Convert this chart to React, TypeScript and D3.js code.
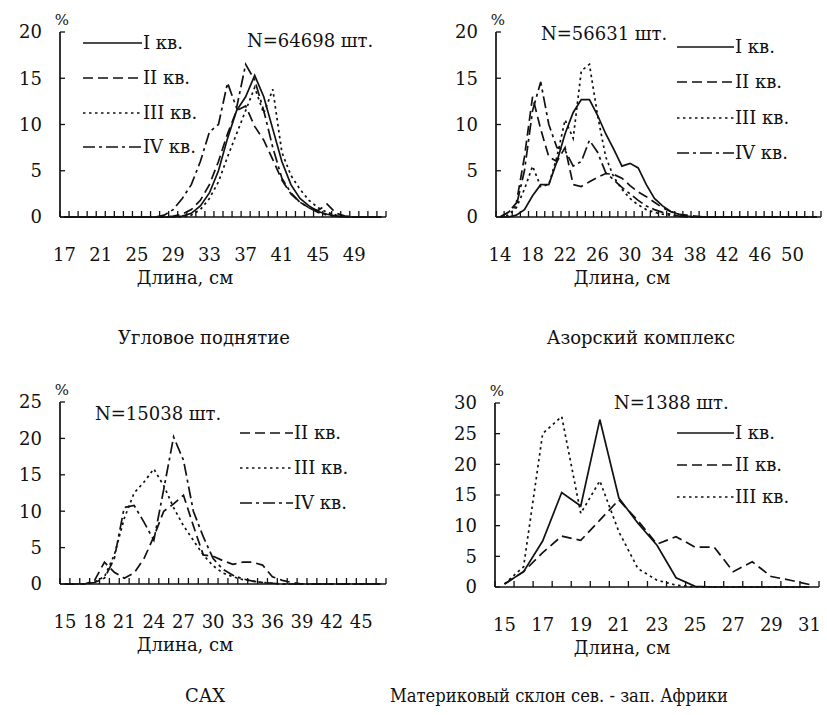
import * as d3 from "d3";

// ---- data ----
const lengths1 = [17,18,19,20,21,22,23,24,25,26,27,28,29,30,31,32,33,34,35,36,37,38,39,40,41,42,43,44,45,46,47,48,49,50,51,52];
const labels1 = [17,21,25,29,33,37,41,45,49];
const q1_1 = [0,0,0,0,0,0,0,0,0,0,0,0,0,0.1,0.4,1.2,2.6,5,8.5,11.5,13,15.3,13,9.5,6,3.5,2,1.2,0.6,0.3,0.1,0,0,0,0,0];
const q2_1 = [0,0,0,0,0,0,0,0,0,0,0,0,0.1,0.3,0.8,1.8,3.5,6,9,11.5,12,9.8,8.3,6.2,4,2.5,1.6,1,0.7,1.4,0.4,0.1,0,0,0,0];
const q3_1 = [0,0,0,0,0,0,0,0,0,0,0,0,0,0,0.2,0.8,2,3.8,6.5,9,11.5,14,11.2,13.8,7,4.5,3,1.8,1,0.5,0.2,0.1,0,0,0,0];
const q4_1 = [0,0,0,0,0,0,0,0,0,0,0,0.2,0.8,2,3.5,6,9.2,10,14.5,11.8,16.5,14.8,11.5,7.5,4.2,2.6,1.6,1,0.5,0.2,0.1,0,0,0,0,0];

const lengths2 = [14,15,16,17,18,19,20,21,22,23,24,25,26,27,28,29,30,31,32,33,34,35,36,37,38,39,40,41,42,43,44,45,46,47,48,49,50,51,52,53];
const labels2 = [14,18,22,26,30,34,38,42,46,50];
const q1_2 = [0,0,0.2,0.8,2.3,3.5,3.5,6,9,11.3,12.7,12.7,11,9,7.3,5.5,5.8,5.3,3.5,2,1.2,0.6,0.3,0.1,0,0,0,0,0,0,0,0,0,0,0,0,0,0,0,0];
const q2_2 = [0,0.5,1.5,6.5,13,9.5,6.5,6,7.5,3.5,3.3,3.8,4.3,4.7,4.6,4.2,3.4,2.7,2.2,1.6,1,0.6,0.3,0.2,0.1,0,0,0,0,0,0,0,0,0,0,0,0,0,0,0];
const q3_2 = [0,0.2,1,3,5.5,3.3,3.5,6.5,10.5,8.5,15.8,16.5,11,6.5,4.3,3,2,1.3,0.8,0.5,0.3,0.2,0.1,0,0,0,0,0,0,0,0,0,0,0,0,0,0,0,0,0];
const q4_2 = [0,0.5,1.2,5,11.5,14.6,10,7.5,7.2,5.5,6,8.3,7,4.8,4,3.2,2.5,1.8,1.2,0.8,0.5,0.3,0.1,0,0,0,0,0,0,0,0,0,0,0,0,0,0,0,0,0];

const lengths3 = [15,16,17,18,19,20,21,22,23,24,25,26,27,28,29,30,31,32,33,34,35,36,37,38,39,40,41,42,43,44,45,46,47];
const labels3 = [15,18,21,24,27,30,33,36,39,42,45];
const q2_3 = [0,0,0,0.5,3,1.6,0.8,1.5,3.5,6.5,10,11,12.2,8,4,3.8,3.2,2.7,3,3,2.6,1,0.5,0.2,0,0,0,0,0,0,0,0,0];
const q3_3 = [0,0,0,0.3,1,4,9,12.5,14,15.8,13.5,10.5,8,6,4,2.5,1.5,1,0.6,0.4,0.2,0.1,0,0,0,0,0,0,0,0,0,0,0];
const q4_3 = [0,0,0,0.2,0.8,3.5,10.5,10.8,8.5,6,13,20.2,17,10,6.5,3.5,2,1.2,0.7,0.4,0.2,0.1,0,0,0,0,0,0,0,0,0,0,0];

const lengths4 = [15,16,17,18,19,20,21,22,23,24,25,26,27,28,29,30,31];
const labels4 = [15,17,19,21,23,25,27,29,31];
const q1_4 = [0.5,2.5,7.5,15.4,13.2,27.3,14.5,10.4,6.8,1.5,0.1,0,0,0,0,0,0];
const q2_4 = [0.5,2.5,5.6,8.3,7.6,10.9,14.2,10.8,7,8.2,6.5,6.5,2.5,4.1,1.7,1.1,0.4];
const q3_4 = [0.5,3.3,25,27.8,12,17.3,9,3,1.1,0.3,0,0,0,0,0,0,0];

const font = '"DejaVu Serif"';
const fs = 18;
const dash: Record<string, string | undefined> = {
  "I кв.": undefined,
  "II кв.": "10,5",
  "III кв.": "2.5,3.5",
  "IV кв.": "12,4,3,4",
};

type Series = { name: string; values: number[] };

function Panel(p: {
  cats: number[];
  labels: number[];
  series: Series[];
  yMax: number;
  left: number;
  right: number;
  y0: number;
  yTop: number;
  legendX: [number, number];
  legendY: number[];
  nText: string;
  nPos: [number, number];
  xTitleX: number;
  title: string;
  titlePos: [number, number];
  titleWidth?: number;
}) {
  const x = d3.scaleBand<number>().domain(p.cats).range([p.left, p.right]);
  const y = d3.scaleLinear().domain([0, p.yMax]).range([p.y0, p.yTop]);
  const cx = (c: number) => (x(c) as number) + x.bandwidth() / 2;
  const line = d3
    .line<number>()
    .x((_, i) => cx(p.cats[i]))
    .y((d) => y(d));
  const yTicks = y.ticks(p.yMax / 5);
  const bounds = p.cats.map((c) => x(c) as number).concat([p.right]);

  return (
    <g fill="#111" style={{ fontFamily: font }}>
      {/* series */}
      {p.series.map((s) => (
        <path
          key={s.name}
          d={line(s.values) || ""}
          fill="none"
          stroke="#111"
          strokeWidth={1.7}
          strokeDasharray={dash[s.name]}
        />
      ))}

      {/* x axis */}
      <line x1={p.left} x2={p.right} y1={p.y0} y2={p.y0} stroke="#111" strokeWidth={1.7} />
      {bounds.map((b, i) => (
        <line key={i} x1={b} x2={b} y1={p.y0} y2={p.y0 - 6} stroke="#111" strokeWidth={1.3} />
      ))}
      {p.labels.map((l) => (
        <text key={l} x={cx(l)} y={p.y0 + 44} textAnchor="middle" fontSize={fs}>
          {l}
        </text>
      ))}
      <text x={p.xTitleX} y={p.y0 + 67} textAnchor="middle" fontSize={fs}>
        Длина, см
      </text>

      {/* y axis */}
      <line x1={p.left} x2={p.left} y1={p.y0} y2={p.yTop} stroke="#111" strokeWidth={1.7} />
      {yTicks.map((t) => (
        <g key={t}>
          <line x1={p.left} x2={p.left + 5} y1={y(t)} y2={y(t)} stroke="#111" strokeWidth={1.3} />
          <text x={p.left - 18} y={y(t)} dy="0.36em" textAnchor="end" fontSize={fs}>
            {t}
          </text>
        </g>
      ))}
      <text x={p.left + 2} y={p.yTop - 7} textAnchor="middle" fontSize={15}>
        %
      </text>

      {/* legend */}
      {p.series.map((s, i) => (
        <g key={s.name}>
          <line
            x1={p.legendX[0]}
            x2={p.legendX[1]}
            y1={p.legendY[i]}
            y2={p.legendY[i]}
            stroke="#111"
            strokeWidth={1.7}
            strokeDasharray={dash[s.name]}
          />
          <text x={p.legendX[1] + 1} y={p.legendY[i]} dy="0.36em" fontSize={fs}>
            {s.name}
          </text>
        </g>
      ))}

      <text x={p.nPos[0]} y={p.nPos[1]} fontSize={fs}>
        {p.nText}
      </text>
      <text
        x={p.titlePos[0]}
        y={p.titlePos[1]}
        textAnchor="middle"
        fontSize={fs}
        textLength={p.titleWidth}
        lengthAdjust={p.titleWidth ? "spacingAndGlyphs" : undefined}
      >
        {p.title}
      </text>
    </g>
  );
}

export default function App() {
  return (
    <svg
      width={827}
      height={715}
      style={{ position: "fixed", left: 0, top: 0, background: "#fff" }}
    >
      <Panel
        cats={lengths1}
        labels={labels1}
        series={[
          { name: "I кв.", values: q1_1 },
          { name: "II кв.", values: q2_1 },
          { name: "III кв.", values: q3_1 },
          { name: "IV кв.", values: q4_1 },
        ]}
        yMax={20}
        left={60}
        right={386}
        y0={217}
        yTop={32}
        legendX={[83, 142]}
        legendY={[43, 78, 113, 147]}
        nText="N=64698 шт."
        nPos={[247, 47]}
        xTitleX={185}
        title="Угловое поднятие"
        titlePos={[204, 344]}
      />
      <Panel
        cats={lengths2}
        labels={labels2}
        series={[
          { name: "I кв.", values: q1_2 },
          { name: "II кв.", values: q2_2 },
          { name: "III кв.", values: q3_2 },
          { name: "IV кв.", values: q4_2 },
        ]}
        yMax={20}
        left={496}
        right={821}
        y0={217}
        yTop={32}
        legendX={[677, 734]}
        legendY={[47, 82, 118, 153]}
        nText="N=56631 шт."
        nPos={[541, 40]}
        xTitleX={622}
        title="Азорский комплекс"
        titlePos={[641, 344]}
      />
      <Panel
        cats={lengths3}
        labels={labels3}
        series={[
          { name: "II кв.", values: q2_3 },
          { name: "III кв.", values: q3_3 },
          { name: "IV кв.", values: q4_3 },
        ]}
        yMax={25}
        left={60}
        right={386}
        y0={584}
        yTop={402}
        legendX={[240, 293]}
        legendY={[433, 468, 503]}
        nText="N=15038 шт."
        nPos={[95, 420]}
        xTitleX={185}
        title="САХ"
        titlePos={[205, 702]}
      />
      <Panel
        cats={lengths4}
        labels={labels4}
        series={[
          { name: "I кв.", values: q1_4 },
          { name: "II кв.", values: q2_4 },
          { name: "III кв.", values: q3_4 },
        ]}
        yMax={30}
        left={495}
        right={819}
        y0={587}
        yTop={403}
        legendX={[677, 734]}
        legendY={[433, 465, 497]}
        nText="N=1388 шт."
        nPos={[614, 409]}
        xTitleX={622}
        title="Материковый склон сев. - зап. Африки"
        titlePos={[559, 702]}
        titleWidth={338}
      />
    </svg>
  );
}
